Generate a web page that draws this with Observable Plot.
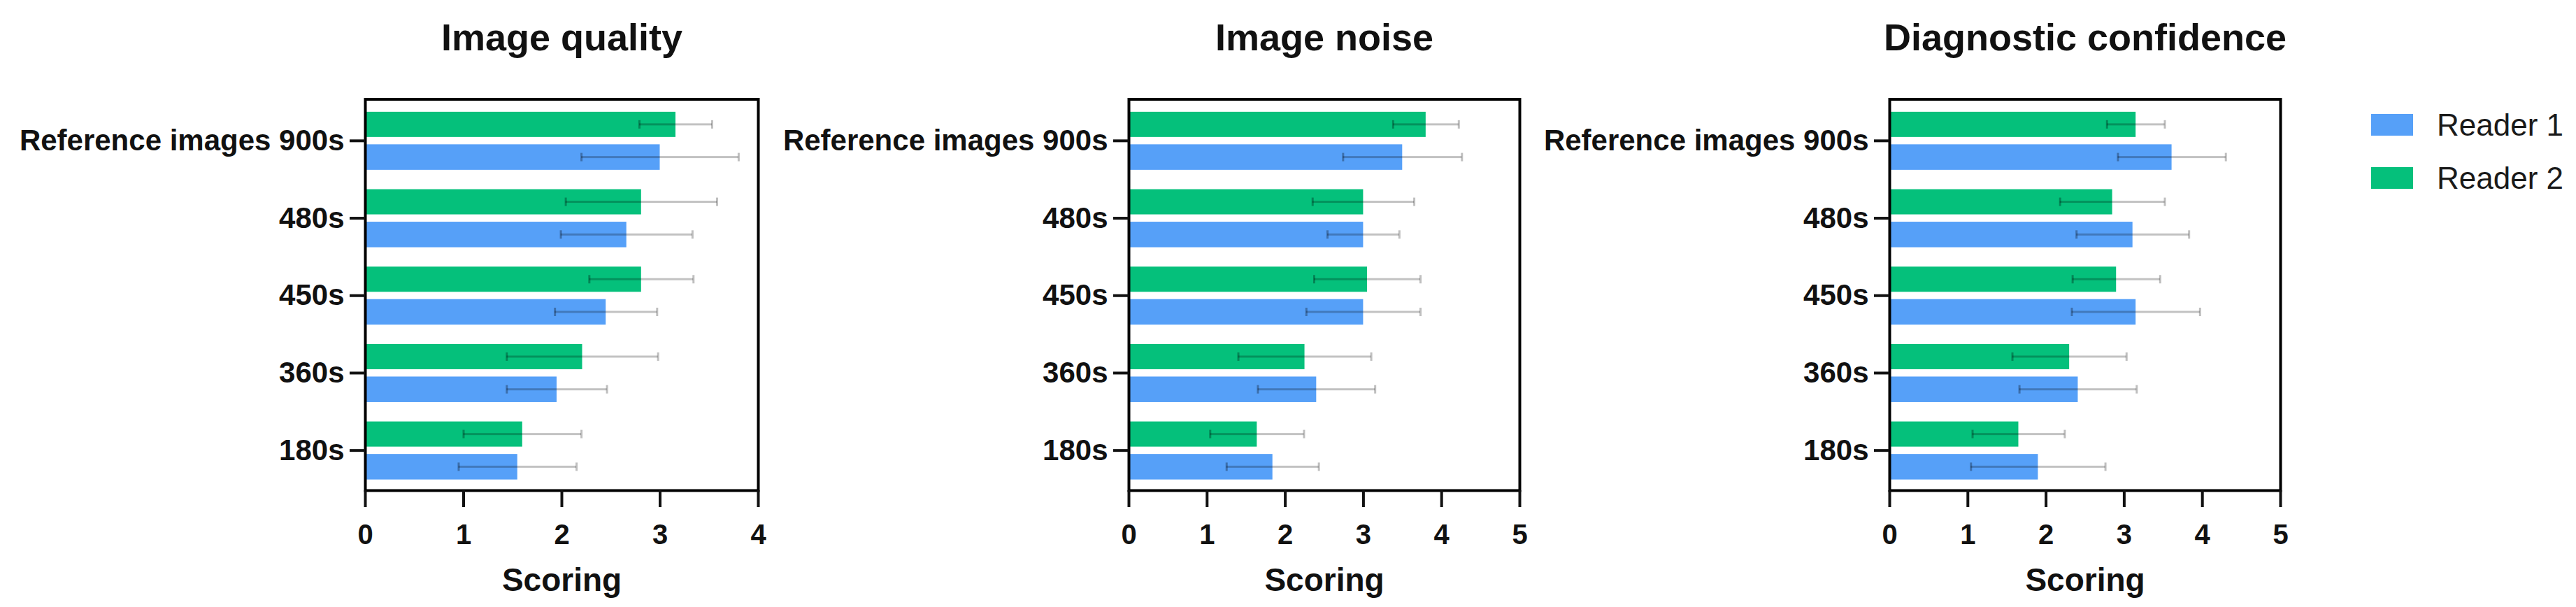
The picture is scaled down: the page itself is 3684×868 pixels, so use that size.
<!DOCTYPE html>
<html><head><meta charset="utf-8">
<script src="https://cdn.jsdelivr.net/npm/d3@7"></script>
<script src="https://cdn.jsdelivr.net/npm/@observablehq/plot@0.6"></script>
<style>
html,body{margin:0;padding:0;background:#fff;}
#wrap{position:relative;width:3684px;height:868px;overflow:hidden;background:#fff;font-family:"Liberation Sans",Arial,Helvetica,sans-serif;color:#111;}
.panel{position:absolute;top:0;}
.sw{position:absolute;width:60px;height:31px;}
.lt{position:absolute;font-size:44px;line-height:44px;white-space:nowrap;color:#1a1a1a;}
</style></head><body><div id="wrap"></div>
<script>
// ---- data ----
const categories = ["Reference images 900s", "480s", "450s", "360s", "180s"];
const readers = ["Reader 1", "Reader 2"];
const panelTitles = ["Image quality", "Image noise", "Diagnostic confidence"];
const xMaxima = [4, 5, 5];
const xLabel = "Scoring";

const qualityReader1Mean = [3.00, 2.66, 2.45, 1.95, 1.55];
const qualityReader1Sd   = [0.80, 0.67, 0.52, 0.51, 0.60];
const qualityReader2Mean = [3.16, 2.81, 2.81, 2.21, 1.60];
const qualityReader2Sd   = [0.37, 0.77, 0.53, 0.77, 0.60];

const noiseReader1Mean = [3.50, 3.00, 3.00, 2.40, 1.84];
const noiseReader1Sd   = [0.76, 0.46, 0.73, 0.75, 0.59];
const noiseReader2Mean = [3.80, 3.00, 3.05, 2.25, 1.64];
const noiseReader2Sd   = [0.42, 0.65, 0.68, 0.85, 0.60];

const confReader1Mean = [3.61, 3.11, 3.15, 2.41, 1.90];
const confReader1Sd   = [0.69, 0.72, 0.82, 0.75, 0.86];
const confReader2Mean = [3.15, 2.85, 2.90, 2.30, 1.65];
const confReader2Sd   = [0.37, 0.67, 0.56, 0.73, 0.59];

const readerColors = {"Reader 1": "#56A0F8", "Reader 2": "#05C07B"};

// ---- layout ----
const H = 868, ML = 520, MR = 15, MT = 141.5, MB = 167;
const frames = [[522, 1084], [1614, 2173], [2702, 3261]];
const wrap = document.getElementById("wrap");

function makePanel(title, r1m, r1s, r2m, r2s, xmax, frameL, frameR) {
  const rows = [];
  categories.forEach((c, i) => {
    rows.push({cat: c, reader: "Reader 1", mean: r1m[i], sd: r1s[i]});
    rows.push({cat: c, reader: "Reader 2", mean: r2m[i], sd: r2s[i]});
  });
  const W = frameR - frameL + ML + MR;
  const yInsetTop = 4, yInsetBottom = 2;
  const step = (H - MT - MB - yInsetTop - yInsetBottom) / categories.length;
  const half = step / 2;
  const geo = {
    "Reader 2": {bar: [-41, -5], line: [-24.5, -21.5], cap: [-29, -17]},
    "Reader 1": {bar: [5.5, 42], line: [22.25, 25.25], cap: [17.75, 29.75]}
  };
  const ins = ([a, b]) => ({insetTop: half + a, insetBottom: half - b});
  const marks = [];
  for (const r of readers) {
    const data = rows.filter(d => d.reader === r);
    marks.push(Plot.barX(data, {x: "mean", y: "cat", fill: readerColors[r], ...ins(geo[r].bar)}));
  }
  for (const r of readers) {
    const data = rows.filter(d => d.reader === r);
    marks.push(Plot.barX(data, {x1: d => d.mean - d.sd, x2: d => d.mean + d.sd, y: "cat",
      fill: "#000", fillOpacity: 0.24, ...ins(geo[r].line)}));
    marks.push(Plot.tickX(data, {x: d => d.mean - d.sd, y: "cat", stroke: "#000", strokeOpacity: 0.3,
      strokeWidth: 3, ...ins(geo[r].cap)}));
    marks.push(Plot.tickX(data, {x: d => d.mean + d.sd, y: "cat", stroke: "#000", strokeOpacity: 0.25,
      strokeWidth: 3, ...ins(geo[r].cap)}));
  }
  marks.push(Plot.frame({stroke: "#000", strokeWidth: 4}));
  marks.push(Plot.axisY({tickSize: 22, tickPadding: 8, fontSize: 42, fontWeight: "bold", strokeWidth: 4, label: null}));
  marks.push(Plot.axisX({ticks: d3.range(0, xmax + 1), tickFormat: d3.format("d"), tickSize: 24, tickPadding: 24,
    fontSize: 40, fontWeight: "bold", strokeWidth: 4, label: null}));
  marks.push(Plot.text([title], {frameAnchor: "top", lineAnchor: "top", dy: -108.5, fontSize: 54, fontWeight: "bold"}));
  marks.push(Plot.text([xLabel], {frameAnchor: "bottom", lineAnchor: "top", dy: 111, fontSize: 46, fontWeight: "bold"}));

  const svg = Plot.plot({
    width: W, height: H,
    marginLeft: ML, marginRight: MR, marginTop: MT, marginBottom: MB,
    x: {domain: [0, xmax], label: null},
    y: {domain: categories, padding: 0, insetTop: yInsetTop, insetBottom: yInsetBottom, round: false, label: null},
    style: {fontFamily: '"Liberation Sans", Arial, sans-serif', color: "#111", background: "transparent", overflow: "visible"},
    marks
  });
  svg.classList.add("panel");
  svg.style.left = (frameL - ML) + "px";
  wrap.appendChild(svg);
}

const panelData = [
  [qualityReader1Mean, qualityReader1Sd, qualityReader2Mean, qualityReader2Sd],
  [noiseReader1Mean, noiseReader1Sd, noiseReader2Mean, noiseReader2Sd],
  [confReader1Mean, confReader1Sd, confReader2Mean, confReader2Sd]
];
panelTitles.forEach((t, i) => {
  const [a, b, c, d] = panelData[i];
  makePanel(t, a, b, c, d, xMaxima[i], frames[i][0], frames[i][1]);
});

// ---- legend ----
const legendTops = [163, 239];
readers.forEach((r, i) => {
  const sw = document.createElement("div");
  sw.className = "sw";
  sw.style.left = "3391px";
  sw.style.top = legendTops[i] + "px";
  sw.style.background = readerColors[r];
  wrap.appendChild(sw);
  const t = document.createElement("div");
  t.className = "lt";
  t.style.left = "3485px";
  t.style.top = (legendTops[i] + 31 - 37.2) + "px";
  t.textContent = r;
  wrap.appendChild(t);
});
</script></body></html>
